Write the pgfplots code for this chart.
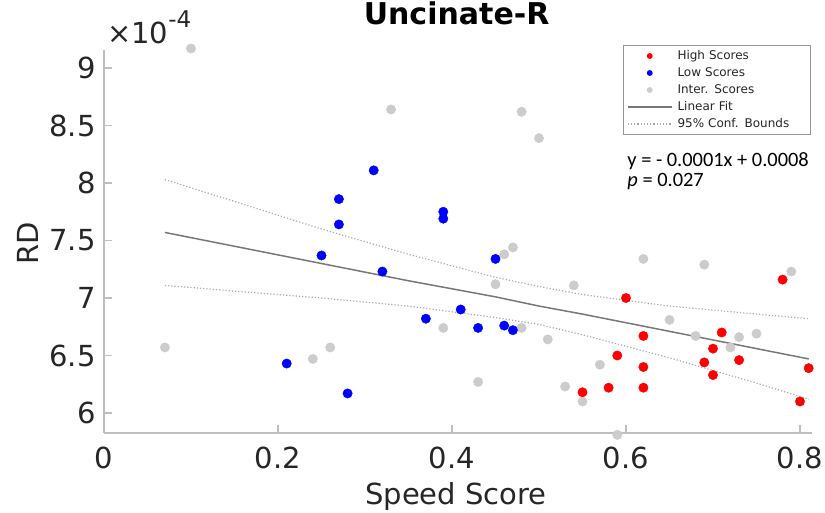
\documentclass[border=0pt]{standalone}
\usepackage{pgfplots}
\pgfplotsset{compat=1.18}
\usepackage{fontspec}
\setmainfont{DejaVu Sans}
\newfontfamily\calibri{Carlito}

\definecolor{txt}{RGB}{38,38,38}
\definecolor{axgray}{RGB}{190,190,190}
\definecolor{ptgray}{RGB}{204,204,204}
\definecolor{fitgray}{RGB}{120,120,120}
\definecolor{cbgray}{RGB}{170,170,170}
\definecolor{lgdgray}{RGB}{150,150,150}

\pgfplotsset{
  linelegend/.style={legend image code/.code={\draw (0pt,0pt) -- (22pt,0pt);}},
  dotlegend/.style={legend image code/.code={\path (0pt,0pt) (22pt,0pt); \draw[only marks] plot coordinates {(11pt,0pt)};}},
}

% RD values in units of 1e-4
\pgfplotstableread{
x     y
0.55  6.18
0.60  7.00
0.62  6.67
0.59  6.50
0.62  6.40
0.58  6.22
0.62  6.22
0.78  7.16
0.71  6.70
0.70  6.56
0.69  6.44
0.73  6.46
0.70  6.33
0.81  6.39
0.80  6.10
}\high

\pgfplotstableread{
x     y
0.27  7.86
0.27  7.64
0.25  7.37
0.21  6.43
0.28  6.17
0.31  8.11
0.39  7.75
0.39  7.69
0.45  7.34
0.32  7.23
0.41  6.90
0.37  6.82
0.43  6.74
0.46  6.76
0.47  6.72
}\low

\pgfplotstableread{
x     y
0.10  9.17
0.07  6.57
0.24  6.47
0.26  6.57
0.33  8.64
0.48  8.62
0.50  8.39
0.46  7.38
0.47  7.44
0.45  7.12
0.54  7.11
0.39  6.74
0.48  6.74
0.51  6.64
0.43  6.27
0.53  6.23
0.55  6.10
0.57  6.42
0.62  7.34
0.69  7.29
0.79  7.23
0.65  6.81
0.68  6.67
0.73  6.66
0.75  6.69
0.72  6.57
0.59  5.81
}\inter

\pgfplotstableread{
x     fit   up    lo
0.07  7.57  8.03  7.11
0.15  7.45  7.84  7.06
0.25  7.30  7.60  7.00
0.35  7.15  7.38  6.93
0.45  7.01  7.18  6.83
0.50  6.93  7.10  6.77
0.55  6.86  7.03  6.68
0.65  6.71  6.93  6.48
0.75  6.56  6.86  6.26
0.81  6.47  6.82  6.12
}\fitdata

\begin{document}
\begin{tikzpicture}
\useasboundingbox (-52pt,-40pt) rectangle (360.5pt,216.5pt);
\begin{axis}[
  at={(0,0)}, anchor=south west,
  scale only axis, width=354pt, height=191.5pt,
  xmin=0, xmax=0.8138, ymin=5.826, ymax=9.157,
  clip=false,
  axis x line*=bottom, axis y line*=left,
  axis line style={draw=axgray, line width=0.6pt, -},
  xtick={0,0.2,0.4,0.6,0.8}, ytick={6,6.5,7,7.5,8,8.5,9},
  tick align=inside, major tick length=4pt,
  tick style={draw=axgray, line width=0.6pt},
  ticklabel style={font=\fontsize{14.5}{17}\selectfont, text=txt},
  /pgf/number format/assume math mode=true,
  xticklabel style={yshift=-3.5pt},
  yticklabel style={xshift=-0.7pt},
  xlabel={Speed Score},
  ylabel={RD},
  label style={font=\fontsize{14.5}{17}\selectfont, text=txt},
  xlabel style={at={(axis description cs:0.497,-0.1854)}, anchor=base},
  ylabel style={at={(axis description cs:-0.0932,0.496)}, anchor=base},
  title={Uncinate-R},
  title style={at={(axis description cs:0.498,1.034)}, anchor=base, font=\bfseries\fontsize{15}{18}\selectfont},
  legend cell align=left,
  legend style={at={(axis description cs:0.9986,1.013)}, anchor=north east,
    draw=lgdgray, line width=0.5pt, fill=white, inner xsep=2pt, inner ysep=1pt,
    font=\fontsize{6}{7}\selectfont, text=txt,
    nodes={inner xsep=2.5pt, inner ysep=0.25pt, text height=5.5pt, text depth=2.5pt, text width=62pt, align=left}},
]
\addlegendimage{dotlegend, only marks, mark=*, mark size=1.2pt, red}
\addlegendentry{High Scores}
\addlegendimage{dotlegend, only marks, mark=*, mark size=1.2pt, blue}
\addlegendentry{Low Scores}
\addlegendimage{dotlegend, only marks, mark=*, mark size=1.2pt, ptgray}
\addlegendentry{Inter. Scores}
\addlegendimage{linelegend, fitgray, line width=0.75pt}
\addlegendentry{Linear Fit}
\addlegendimage{linelegend, cbgray, densely dotted, line width=0.6pt}
\addlegendentry{95\% Conf. Bounds}

\addplot[forget plot, only marks, mark=*, mark size=2.35pt, ptgray, mark options={line width=0.2pt}] table[x=x, y=y]{\inter};
\addplot[forget plot, only marks, mark=*, mark size=2.35pt, blue, mark options={line width=0.2pt}] table[x=x, y=y]{\low};
\addplot[forget plot, only marks, mark=*, mark size=2.35pt, red, mark options={line width=0.2pt}] table[x=x, y=y]{\high};

\addplot[forget plot, no marks, fitgray, line width=0.75pt] table[x=x, y=fit]{\fitdata};
\addplot[forget plot, no marks, cbgray, densely dotted, line width=0.6pt] table[x=x, y=up]{\fitdata};
\addplot[forget plot, no marks, cbgray, densely dotted, line width=0.6pt] table[x=x, y=lo]{\fitdata};

\node[anchor=base west, inner sep=0, text=txt, font=\fontsize{14.5}{17}\selectfont]
  at (axis description cs:0.004,1.018) {×10\raisebox{8pt}{\fontsize{11.5}{13}\selectfont -4}};
\node[anchor=base west, inner sep=0, text=black, font=\calibri\fontsize{10.2}{12}\selectfont]
  at (axis description cs:0.7387,0.6945) {y = - 0.0001x + 0.0008};
\node[anchor=base west, inner sep=0, text=black, font=\calibri\fontsize{10.2}{12}\selectfont]
  at (axis description cs:0.7387,0.6423) {{\itshape p} = 0.027};
\end{axis}
\end{tikzpicture}
\end{document}
